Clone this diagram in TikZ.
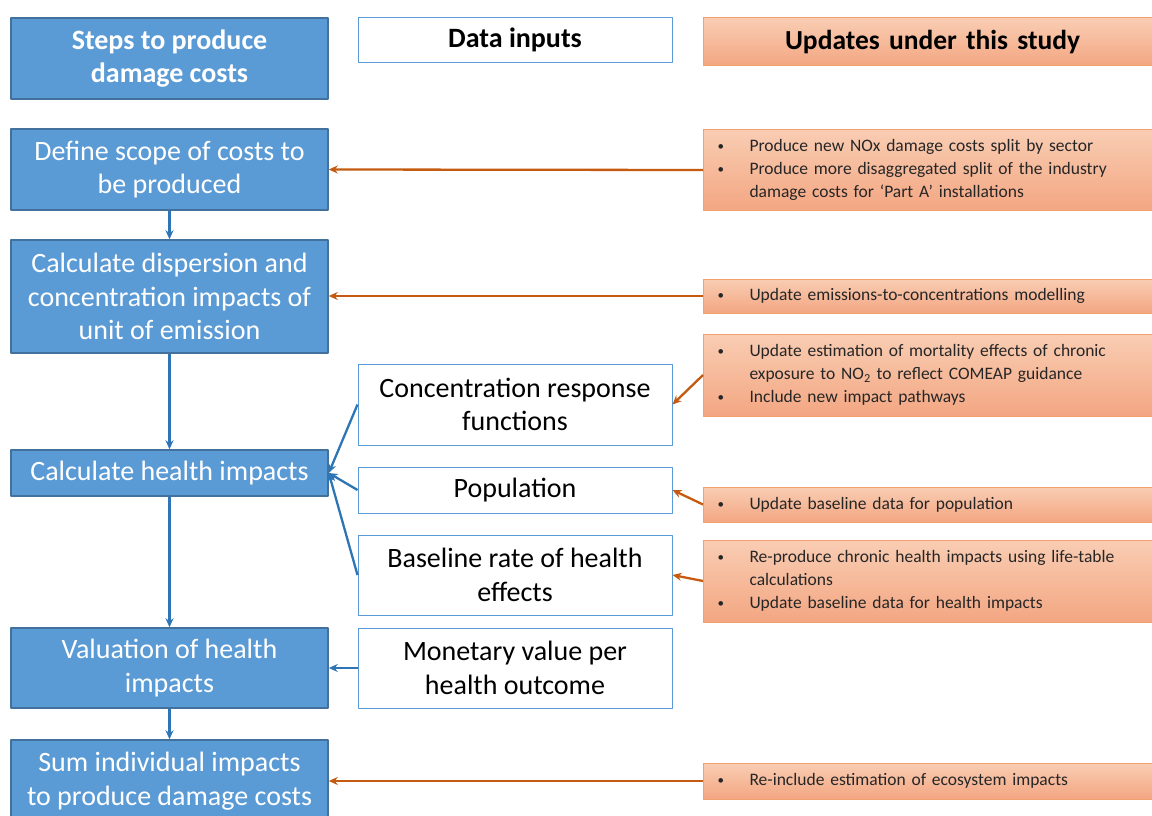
\documentclass[tikz,border=0pt]{standalone}
\usepackage{fontspec}
\setmainfont{Carlito}
\usetikzlibrary{arrows.meta}
\definecolor{stepblue}{HTML}{5B9BD5}
\definecolor{stepedge}{HTML}{41719C}
\definecolor{arrblue}{HTML}{2E75B6}
\definecolor{arrorange}{HTML}{C55A11}
\definecolor{updtop}{HTML}{F9CDB3}
\definecolor{updbot}{HTML}{F3A682}
\definecolor{updedge}{HTML}{F2A070}
\newcommand{\bul}{\makebox[32pt][l]{\raisebox{1pt}{\fontsize{13}{13}\selectfont\textbullet}}}
\newcommand{\ind}{\hspace*{32pt}}
\begin{document}
\begin{tikzpicture}[x=1pt,y=-1pt,>={Stealth[length=9pt,width=8pt]},line join=round,
	stepbox/.style={draw=stepedge,line width=1.5pt,fill=stepblue,text=white,align=center,
		minimum width=317pt,inner sep=0pt,font=\fontsize{28}{33.5}\selectfont},
	inbox/.style={draw=stepblue,line width=1pt,fill=white,align=center,
		minimum width=314pt,inner sep=0pt,font=\fontsize{28}{33.5}\selectfont},
	updbox/.style={draw=updedge,line width=1pt,top color=updtop,bottom color=updbot,
		anchor=west,align=left,text width=440pt,inner xsep=14pt,inner ysep=0pt,
		text=black!85,font=\fontsize{17.5}{23}\selectfont},
	bluearr/.style={->,draw=arrblue,line width=2.3pt},
	orangearr/.style={->,draw=arrorange,line width=2.3pt}]
	\useasboundingbox (0,0) rectangle (1152,816);
	% column headers
	\node[stepbox,minimum height=81pt,font=\fontsize{28}{33.5}\selectfont\bfseries] (head) at (169.5,58.5) {Steps to produce\\damage costs};
	\node[inbox,minimum height=45pt,font=\fontsize{28}{30}\selectfont\bfseries] (inhead) at (515,40) {Data inputs};
	\node[updbox,minimum height=48pt,text width=430pt,align=center,text=black,font=\fontsize{27.5}{30}\selectfont\bfseries] (updhead) at (703,42) {Updates under this study};
	% steps
	\node[stepbox,minimum height=81pt] (scope) at (169.5,169.5) {Define scope of costs to\\be produced};
	\node[stepbox,minimum height=113pt] (disp) at (169.5,296.5) {Calculate dispersion and\\concentration impacts of\\unit of emission};
	\node[stepbox,minimum height=46pt] (health) at (169.5,473) {Calculate health impacts};
	\node[stepbox,minimum height=80pt] (val) at (169.5,668) {Valuation of health\\impacts};
	\node[stepbox,minimum height=82pt] (sum) at (169.5,781) {Sum individual impacts\\to produce damage costs};
	% data inputs
	\node[inbox,minimum height=81pt] (crf) at (515,404.5) {Concentration response\\functions};
	\node[inbox,minimum height=46pt] (pop) at (515,490) {Population};
	\node[inbox,minimum height=80pt] (base) at (515,575) {Baseline rate of health\\effects};
	\node[inbox,minimum height=80pt] (money) at (515,668) {Monetary value per\\health outcome};
	% updates
	\node[updbox,minimum height=81pt] (upscope) at (703,170) {\bul Produce new NOx damage costs split by sector\\
		\bul Produce more disaggregated split of the industry\\\ind damage costs for ‘Part A’ installations};
	\node[updbox,minimum height=34pt] (updisp) at (703,296) {\bul Update emissions-to-concentrations modelling};
	\node[updbox,minimum height=82pt] (upcrf) at (703,375) {\bul Update estimation of mortality effects of chronic\\
		\ind exposure to NO\textsubscript{2} to reflect COMEAP guidance\\\bul Include new impact pathways};
	\node[updbox,minimum height=35pt] (uppop) at (703,504.5) {\bul Update baseline data for population};
	\node[updbox,minimum height=82pt] (upbase) at (703,581) {\bul Re-produce chronic health impacts using life-table\\
		\ind calculations\\\bul Update baseline data for health impacts};
	\node[updbox,minimum height=36pt] (upsum) at (703,781) {\bul Re-include estimation of ecosystem impacts};
	% flow down the steps
	\foreach \a/\b in {scope/disp,disp/health,health/val,val/sum}
	\draw[bluearr] (\a.south) -- (\b.north);
	\foreach \a in {crf,pop,base}
	\draw[bluearr] (\a.west) -- (health.east);
	\draw[bluearr] (money.west) -- (val.east);
	% updates feeding in
	\draw[orangearr] (upscope.west) -- (scope.east);
	\draw[orangearr] (updisp.west) -- (disp.east|-updisp.west);
	\draw[orangearr] (upcrf.west) -- (crf.east);
	\draw[orangearr] (uppop.west) -- (pop.east);
	\draw[orangearr] (upbase.west) -- (base.east);
	\draw[orangearr] (upsum.west) -- (sum.east);
\end{tikzpicture}
\end{document}
